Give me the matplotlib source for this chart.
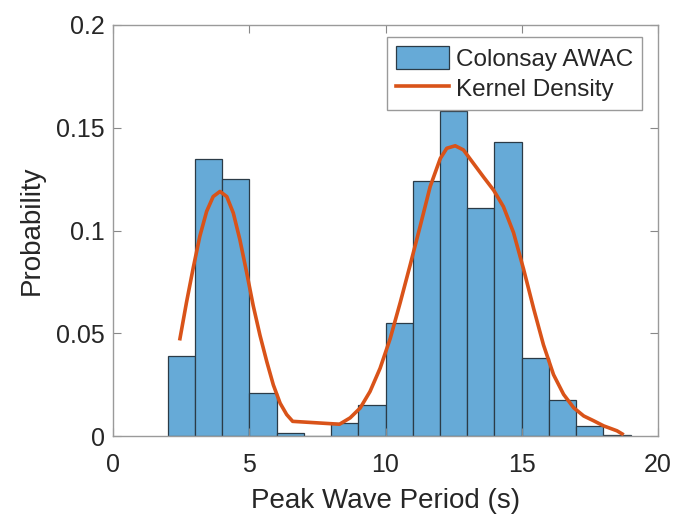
import numpy as np
import matplotlib.pyplot as plt

plt.rcParams['font.family'] = ['Liberation Sans', 'DejaVu Sans']

# histogram of peak wave period, 1 s bins from 2 to 19 s (probability per bin)
bin_edges = [2, 3, 4, 5, 6, 7, 8, 9, 10, 11, 12, 13, 14, 15, 16, 17, 18, 19]
bin_prob = [0.039, 0.135, 0.125, 0.021, 0.0013, 0.0, 0.0064, 0.015, 0.055,
            0.124, 0.158, 0.111, 0.143, 0.038, 0.0174, 0.0048, 0.0007]

# kernel density estimate, evaluated at the sorted sample periods
kde_x = [2.45, 2.69, 2.94, 3.18, 3.43, 3.67, 3.92, 4.17, 4.41, 4.65,
         4.90, 5.14, 5.39, 5.64, 5.88, 6.13, 6.37, 6.59,
         8.31, 8.70, 9.07, 9.43, 9.80, 10.17, 10.54, 10.90, 11.27, 11.64,
         12.01, 12.25, 12.56, 12.86, 13.23, 13.60, 13.97, 14.33, 14.70,
         15.07, 15.44, 15.80, 16.17, 16.54, 16.91, 17.28, 17.64, 18.01,
         18.50, 18.69]
kde_y = [0.0474, 0.065, 0.082, 0.0972, 0.1093, 0.1165, 0.119, 0.1165, 0.1085, 0.0956,
         0.0796, 0.0635, 0.049, 0.0362, 0.0249, 0.016, 0.0105, 0.0072,
         0.0058, 0.0089, 0.0137, 0.0217, 0.033, 0.0474, 0.065, 0.083, 0.102, 0.1214,
         0.135, 0.140, 0.1412, 0.1392, 0.1326, 0.126, 0.1196, 0.1116, 0.099,
         0.0812, 0.062, 0.0444, 0.0299, 0.0203, 0.0138, 0.0098, 0.0075, 0.005,
         0.0026, 0.0011]

fig = plt.figure(figsize=(6.74, 5.18), dpi=100)
ax = fig.add_axes([0.168, 0.158, 0.808, 0.794])

widths = np.diff(bin_edges)
bars = ax.bar(bin_edges[:-1], bin_prob, width=widths, align='edge',
              color='#66aad7', edgecolor='#2b3b47', linewidth=0.9,
              label='Colonsay AWAC')
line, = ax.plot(kde_x, kde_y, color='#d95319', linewidth=2.6,
                label='Kernel Density')

ax.set_xlim(0, 20)
ax.set_ylim(0, 0.2)
ax.set_xticks([0, 5, 10, 15, 20])
ax.set_yticks([0, 0.05, 0.1, 0.15, 0.2])
ax.set_yticklabels(['0', '0.05', '0.1', '0.15', '0.2'])

ax.tick_params(direction='in', top=True, right=True, length=6, width=0.8,
               color='#888888', labelsize=18, labelcolor='#262626', pad=6)
ax.tick_params(axis='x', pad=12)
for s in ax.spines.values():
    s.set_color('#9a9a9a')
    s.set_linewidth(1.0)

ax.set_xlabel('Peak Wave Period (s)', fontsize=20, color='#262626', labelpad=8)
ax.set_ylabel('Probability', fontsize=20, color='#262626', labelpad=8)

leg = ax.legend([bars, line], ['Colonsay AWAC', 'Kernel Density'],
                loc='upper right', bbox_to_anchor=(0.971, 0.971),
                fontsize=17.5, frameon=True, fancybox=False,
                edgecolor='#9a9a9a', handlelength=2.2, handleheight=1.05,
                borderaxespad=0.0, borderpad=0.38, labelspacing=0.22,
                handletextpad=0.25, framealpha=1.0)
leg.get_frame().set_linewidth(1.0)
for t in leg.get_texts():
    t.set_color('#262626')

fig.savefig('out.png', dpi=100)
